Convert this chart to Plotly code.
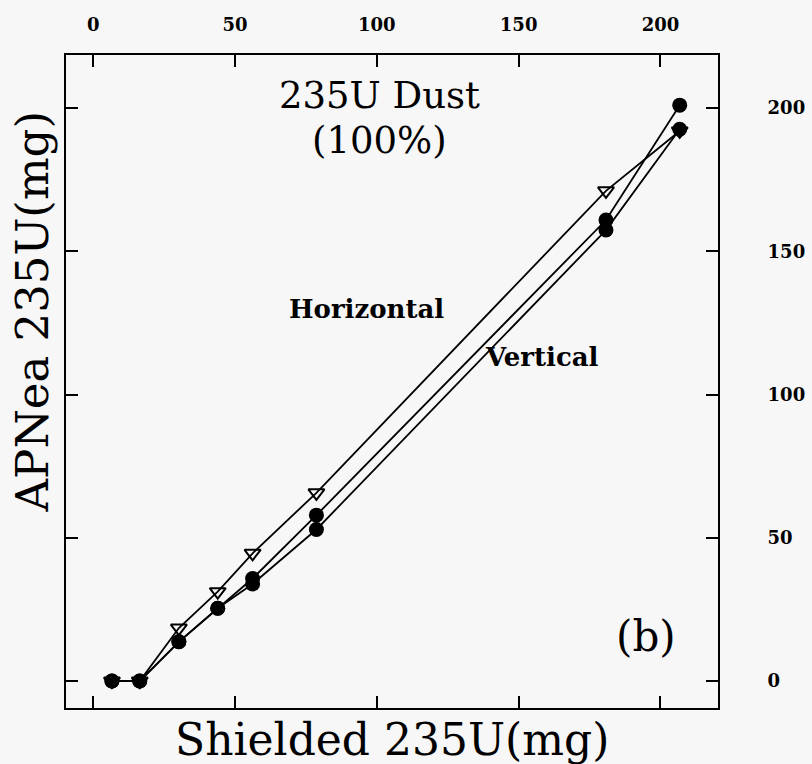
import plotly.graph_objects as go

# Data (mg)
shielded_x = [6.6, 16.4, 30.2, 43.9, 56.2, 78.7, 180.8, 206.8]
vertical_a = [0.0, 0.0, 13.7, 25.4, 35.8, 57.9, 160.9, 201.0]
vertical_b = [0.0, 0.0, 13.7, 25.4, 33.9, 52.9, 157.4, 192.6]
horizontal = [0.0, 0.0, 18.5, 31.2, 44.6, 65.7, 171.1, 192.0]
tick_vals = [0, 50, 100, 150, 200]
tick_text = ["0", "50", "100", "150", "200"]

SERIF = "DejaVu Serif"
fig = go.Figure()
fig.add_trace(go.Scatter(x=shielded_x, y=horizontal, mode="lines+markers",
                         line=dict(color="black", width=1.8),
                         marker=dict(symbol="triangle-down-open", size=14,
                                     color="black", line=dict(width=2, color="black")),
                         name="Horizontal"))
fig.add_trace(go.Scatter(x=shielded_x, y=vertical_a, mode="lines+markers",
                         line=dict(color="black", width=1.8),
                         marker=dict(symbol="circle", size=15, color="black"),
                         name="Vertical"))
fig.add_trace(go.Scatter(x=shielded_x, y=vertical_b, mode="lines+markers",
                         line=dict(color="black", width=1.8),
                         marker=dict(symbol="circle", size=15, color="black"),
                         name="Vertical"))

axis_common = dict(showline=True, linecolor="black", linewidth=2, mirror="ticks",
                   ticks="inside", ticklen=12, tickwidth=1.5, tickcolor="black",
                   showgrid=False, zeroline=False, automargin=False,
                   tickvals=tick_vals, ticktext=tick_text,
                   tickfont=dict(family=SERIF, size=18, color="black", weight="bold"))

fig.update_layout(
    width=812, height=764,
    margin=dict(l=66, r=94, t=55, b=56),
    paper_bgcolor="#f7f7f7", plot_bgcolor="#f7f7f7",
    showlegend=False,
    xaxis=dict(range=[-9.6, 220.3], side="top", ticklabelstandoff=15, **axis_common),
    yaxis=dict(range=[-9.4, 218.5], side="right", ticklabelstandoff=44, **axis_common),
    annotations=[
        dict(x=101, y=204.2, xref="x", yref="y", text="235U Dust",
             showarrow=False, font=dict(family=SERIF, size=37, color="black")),
        dict(x=101, y=188.8, xref="x", yref="y", text="(100%)",
             showarrow=False, font=dict(family=SERIF, size=37, color="black")),
        dict(x=96.5, y=130, xref="x", yref="y", text="Horizontal",
             showarrow=False, font=dict(family=SERIF, size=26, color="black", weight="bold")),
        dict(x=158.4, y=113, xref="x", yref="y", text="Vertical",
             showarrow=False, font=dict(family=SERIF, size=26, color="black", weight="bold")),
        dict(x=195, y=15.4, xref="x", yref="y", text="(b)",
             showarrow=False, font=dict(family=SERIF, size=42, color="black")),
        dict(x=0.5, y=-0.049, xref="paper", yref="paper", text="Shielded 235U(mg)",
             showarrow=False, yanchor="middle",
             font=dict(family=SERIF, size=44, color="black")),
        dict(x=-0.052, y=0.606, xref="paper", yref="paper", text="APNea 235U(mg)",
             showarrow=False, textangle=-90, xanchor="center", yanchor="middle",
             font=dict(family=SERIF, size=45, color="black")),
    ],
)

fig.write_html("out.html")
